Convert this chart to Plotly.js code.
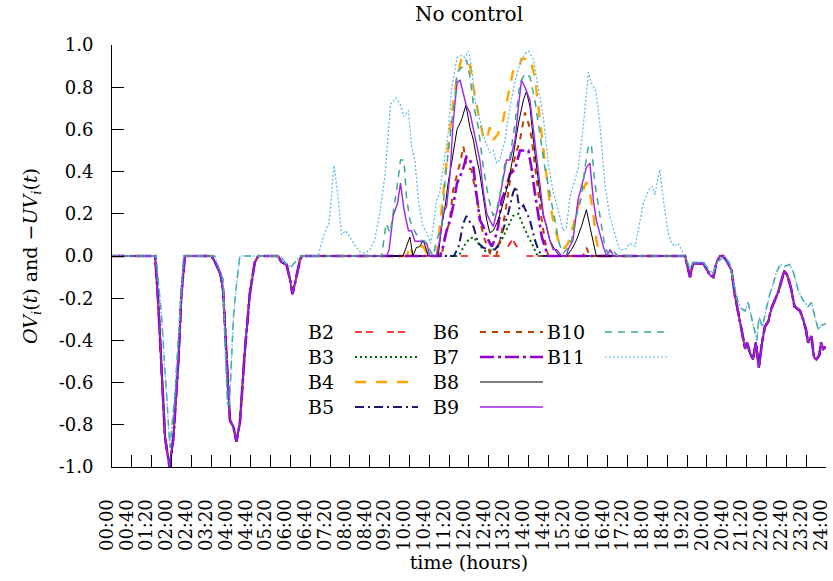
<!DOCTYPE html>
<html>
<head>
<meta charset="utf-8">
<script src="https://cdn.plot.ly/plotly-3.0.1.min.js"></script>
<style>html,body{margin:0;padding:0;background:#fff}#chart{width:833px;height:581px}</style>
</head>
<body>
<div id="chart"></div>
<script>
// ---- tick labels ----
const xTickText = ["00:00","00:40","01:20","02:00","02:40","03:20","04:00","04:40","05:20","06:00","06:40","07:20","08:00","08:40","09:20","10:00","10:40","11:20","12:00","12:40","13:20","14:00","14:40","15:20","16:00","16:40","17:20","18:00","18:40","19:20","20:00","20:40","21:20","22:00","22:40","23:20","24:00"];
const yTickVals = [-1,-0.8,-0.6,-0.4,-0.2,0,0.2,0.4,0.6,0.8,1];
const yTickText = ["-1.0","-0.8","-0.6","-0.4","-0.2","0.0","0.2","0.4","0.6","0.8","1.0"];

// ---- series names ----
const names = ["B2","B3","B4","B5","B6","B7","B8","B9","B10","B11"];

// ---- undervoltage (-UV) shared by B2..B9 (time in minutes) ----
const uvMainT = [0,87,93,100,107,116,124,134,140,147,
  201,208,218,224,231,238,245,251,258,268,278,288,295,
  335,342,352,359,364,371,379,383,
  1156,1166,1172,1193,1199,1206,1213,1219,1226,1233,1243,1250,1256,1263,1270,1277,1281,1287,1293,1299,1305,1310,1317,1324,1330,1337,1344,1349,1356,1362,1369,1377,1388,1394,1400,1404,1411,1416,1421,1427,1430,1435,1440];
const uvMainV = [0,0,-0.21,-0.52,-0.86,-1.0,-0.86,-0.49,-0.18,0,
  0,-0.03,-0.08,-0.16,-0.45,-0.78,-0.81,-0.88,-0.79,-0.45,-0.18,-0.03,0,
  0,-0.03,-0.04,-0.11,-0.18,-0.11,-0.02,0,
  0,-0.10,-0.035,-0.035,-0.06,-0.09,-0.10,-0.035,0,0,-0.035,-0.07,-0.18,-0.26,-0.35,-0.44,-0.41,-0.46,-0.49,-0.41,-0.53,-0.43,-0.335,-0.31,-0.25,-0.21,-0.17,-0.13,-0.07,-0.09,-0.145,-0.24,-0.26,-0.30,-0.35,-0.41,-0.38,-0.48,-0.49,-0.47,-0.41,-0.44,-0.43];

// ---- undervoltage shared by B10, B11 ----
const uvLowT = [0,89,100,110,117,127,137,144,
  207,224,228,233,237,242,245,250,258,
  340,352,362,372,380,
  1156,1166,1172,1193,1206,1213,1220,1236,1246,1256,1263,1270,1277,1283,1289,1297,1301,1305,1312,1320,1327,1334,1340,1348,1357,1367,1375,1384,1394,1404,1411,1419,1425,1431,1440];
const uvLowV = [0,0,-0.29,-0.68,-0.91,-0.65,-0.26,0,
  0,-0.11,-0.41,-0.71,-0.70,-0.45,-0.29,-0.16,0,
  0,-0.04,-0.05,-0.02,0,
  0,-0.06,-0.03,-0.03,-0.07,-0.08,-0.03,0,-0.035,-0.145,-0.22,-0.25,-0.26,-0.22,-0.28,-0.35,-0.40,-0.29,-0.335,-0.25,-0.18,-0.13,-0.08,-0.04,-0.05,-0.04,-0.08,-0.16,-0.21,-0.24,-0.22,-0.30,-0.35,-0.33,-0.32];

// ---- overvoltage (OV) per series ----
const ovB2T = [790,800,808,815,822,830];
const ovB2V = [0,0.05,0.08,0.05,0.03,0];

const ovB3T = [695,702,711,719,729,739,749,759,769,779,789,799,809,820,830,840,850,856,863];
const ovB3V = [0,0.01,0.05,0.076,0.09,0.06,0.03,0.015,0.03,0.045,0.09,0.14,0.19,0.20,0.14,0.09,0.045,0.01,0];

const ovB4T = [595,601,607,614,621,628,638,655,661,668,675,682,688,696,705,715,722,729,739,749,756,762,769,779,789,799,809,820,826,843,853,860,870,877,883,890,900,910,920,930,940,950,957,964,971,977,984];
const ovB4V = [0,0.05,0,0,0.045,0.045,0,0,0.14,0.28,0.44,0.60,0.72,0.85,0.935,0.905,0.905,0.80,0.675,0.565,0.55,0.61,0.55,0.58,0.645,0.755,0.875,0.88,0.935,0.935,0.85,0.71,0.50,0.36,0.25,0.17,0.076,0.03,0.06,0.14,0.235,0.31,0.35,0.30,0.20,0.076,0];

const ovB5T = [690,700,708,715,722,729,739,749,759,769,779,786,799,809,815,822,830,843,853,860,867];
const ovB5V = [0,0.05,0.15,0.19,0.16,0.14,0.06,0.04,0.03,0.02,0.05,0.10,0.20,0.30,0.33,0.22,0.24,0.17,0.076,0.03,0];

const ovB6T = [665,672,681,688,697,703,709,715,725,732,739,745,752,759,765,775,783,793,803,813,823,833,840,846,853,860,867,873,880,950,957,964];
const ovB6V = [0,0.10,0.16,0.31,0.39,0.45,0.52,0.42,0.41,0.33,0.235,0.14,0.076,0.04,0,0,0.076,0.20,0.36,0.47,0.55,0.68,0.63,0.565,0.42,0.30,0.17,0.076,0,0,0.04,0];

const ovB7T = [662,668,675,682,688,696,702,709,715,722,729,735,742,749,759,766,772,779,786,796,803,813,823,840,846,853,860,867,873,880];
const ovB7V = [0,0.045,0.12,0.17,0.235,0.345,0.375,0.42,0.47,0.455,0.42,0.30,0.17,0.14,0.076,0.045,0.076,0.14,0.265,0.33,0.39,0.41,0.50,0.50,0.42,0.30,0.20,0.09,0.045,0];

const ovB8T = [587,601,607,614,621,628,638,658,665,672,678,685,692,696,705,714,722,729,735,742,749,756,762,769,779,789,799,809,820,830,836,843,850,856,863,870,877,883,893,903,917,927,937,947,957,964,971,977];
const ovB8V = [0,0.09,0,0.04,0.045,0.076,0,0,0.14,0.235,0.345,0.44,0.53,0.60,0.645,0.715,0.61,0.55,0.47,0.39,0.28,0.17,0.11,0.12,0.17,0.25,0.345,0.47,0.63,0.74,0.78,0.71,0.55,0.42,0.30,0.19,0.14,0.076,0.03,0,0,0.03,0.076,0.14,0.22,0.14,0.06,0];

const ovB9T = [554,559,567,576,582,589,598,604,611,621,635,641,655,661,668,675,682,688,696,702,708,715,722,732,742,749,756,762,769,779,789,796,803,813,820,826,833,843,850,856,863,870,877,883,890,897,907,917,920,930,940,947,957,964,971,977,984,991,998,1005,1012];
const ovB9V = [0,0.03,0.19,0.25,0.345,0.22,0.12,0.12,0.07,0.07,0.06,0,0,0.076,0.20,0.235,0.39,0.63,0.82,0.834,0.77,0.71,0.68,0.565,0.455,0.31,0.20,0.17,0.14,0.235,0.36,0.455,0.455,0.55,0.71,0.834,0.80,0.74,0.60,0.49,0.345,0.20,0.14,0.076,0.03,0.03,0,0,0.03,0.076,0.265,0.33,0.42,0.44,0.265,0.17,0.11,0.045,0,0.03,0];

const ovB10T = [544,553,561,567,574,582,589,594,601,611,621,631,641,648,655,665,672,678,685,692,696,708,715,722,729,739,749,759,769,776,782,793,803,813,823,833,843,853,863,873,883,893,902,910,917,927,937,947,954,961,967,974,984,994,1001,1010,1020];
const ovB10V = [0,0.155,0.11,0.20,0.31,0.455,0.455,0.28,0.17,0.115,0.076,0.07,0.03,0,0.076,0.14,0.36,0.50,0.63,0.755,0.87,0.90,0.93,0.85,0.72,0.61,0.42,0.28,0.19,0.22,0.28,0.44,0.47,0.63,0.82,0.865,0.85,0.74,0.58,0.42,0.30,0.17,0.06,0.013,0.03,0.076,0.19,0.28,0.42,0.52,0.53,0.345,0.19,0.045,0.013,0.03,0];

const ovB11T = [416,426,438,448,456,463,471,480,490,500,510,520,530,540,551,562,573,581,589,598,604,611,618,627,635,643,648,655,661,672,678,685,692,696,705,712,719,725,732,742,752,762,769,776,782,793,803,813,823,833,841,850,860,870,880,890,900,910,917,924,930,940,950,961,967,976,984,994,1004,1014,1024,1035,1045,1055,1061,1072,1082,1090,1095,1105,1113,1122,1129,1135,1142,1149,1155];
const ovB11V = [0,0.09,0.16,0.43,0.28,0.10,0.12,0.09,0.05,0.02,0.013,0.03,0.076,0.20,0.39,0.72,0.75,0.72,0.66,0.69,0.52,0.455,0.265,0.14,0.11,0.06,0.14,0.265,0.30,0.47,0.58,0.79,0.88,0.94,0.95,0.94,0.97,0.90,0.74,0.645,0.55,0.49,0.50,0.44,0.455,0.55,0.71,0.83,0.91,0.96,0.97,0.93,0.80,0.66,0.44,0.30,0.22,0.12,0.14,0.28,0.33,0.41,0.60,0.87,0.82,0.78,0.63,0.345,0.19,0.115,0.03,0.03,0.06,0.045,0.12,0.25,0.31,0.33,0.29,0.41,0.25,0.11,0.06,0.045,0.06,0.03,0];

// ---- styles ----
const colors = ["#ff0000","#006400","#ffa500","#191970","#c04000","#9400d3","#000000","#a020f0","#3aa98a","#56b4e9"];
const dashes = ["7px,4px,7px,14px","2px,3px","11px,10px","9px,4px,2px,4px","6px,6px","14px,4px,3px,4px","solid","solid","7px,6px","2px,2px"];
const widths = [1.6,2.0,2.4,2.0,2.0,2.6,1.0,1.4,1.5,1.2];

const ovT = [ovB2T,ovB3T,ovB4T,ovB5T,ovB6T,ovB7T,ovB8T,ovB9T,ovB10T,ovB11T];
const ovV = [ovB2V,ovB3V,ovB4V,ovB5V,ovB6V,ovB7V,ovB8V,ovB9V,ovB10V,ovB11V];

function merge(t1,v1,t2,v2){
  const p=[];
  for(let i=0;i<t1.length;i++)p.push([t1[i],v1[i]]);
  for(let i=0;i<t2.length;i++)p.push([t2[i],v2[i]]);
  p.sort((a,b)=>a[0]-b[0]);
  return {x:p.map(q=>q[0]),y:p.map(q=>q[1])};
}

const traces = names.map((n,i)=>{
  const uT = i<8 ? uvMainT : uvLowT;
  const uV = i<8 ? uvMainV : uvLowV;
  const m = merge(uT,uV,ovT[i],ovV[i]);
  return {x:m.x,y:m.y,type:'scatter',mode:'lines',name:n,showlegend:false,
    line:{color:colors[i],width:widths[i],dash:dashes[i]}};
});

// ---- manual key (gnuplot style: label left, sample right, column-major) ----
const L=112,R=826,T=45,B=467;
const px=x=>(x-L)/(R-L), py=y=>(B-y)/(B-T);
const rowsY=[332,357,382,407];
const colTextX=[306,431,545];
const colLine=[[355,418],[480,543],[605,668]];
const annotations=[], shapes=[];
names.forEach((n,i)=>{
  const c=Math.floor(i/4), r=i%4;
  annotations.push({xref:'paper',yref:'paper',x:px(colTextX[c]),y:py(rowsY[r]),text:n,showarrow:false,
    xanchor:'left',yanchor:'middle',font:{size:19,color:'#000'}});
  shapes.push({type:'line',xref:'paper',yref:'paper',x0:px(colLine[c][0]),x1:px(colLine[c][1]),
    y0:py(rowsY[r]),y1:py(rowsY[r]),line:{color:colors[i],width:widths[i],dash:dashes[i]}});
});

const layout = {
  width:833,height:581,
  margin:{l:112,r:7,t:45,b:114,pad:0},
  paper_bgcolor:'#fff',plot_bgcolor:'#fff',
  font:{family:'"DejaVu Serif", "Liberation Serif", serif',size:19,color:'#000'},
  title:{text:'No control',x:0.5,xref:'paper',y:1-14/581,yref:'container',yanchor:'middle',font:{size:20}},
  showlegend:false,
  xaxis:{range:[0,1440.3],tickmode:'array',tickvals:xTickText.map((s,i)=>i*40),ticktext:xTickText,
    tickangle:-90,ticks:'inside',ticklen:12,tickcolor:'#000',tickwidth:1,
    showline:true,linecolor:'#000',linewidth:1,showgrid:false,zeroline:false,
    ticklabelstandoff:24,ticklabelshift:-5,ticklabeloverflow:'allow',tickfont:{size:18},automargin:false,
    title:{text:'time (hours)',font:{size:19},standoff:5}},
  yaxis:{range:[-1,1],tickmode:'array',tickvals:yTickVals,ticktext:yTickText,
    ticks:'inside',ticklen:12,tickcolor:'#000',tickwidth:1,
    showline:true,linecolor:'#000',linewidth:1,showgrid:false,zeroline:false,
    ticklabelstandoff:14,tickfont:{size:18},automargin:false,
    title:{text:'<i>OV<sub>i</sub></i>(<i>t</i>) and −<i>UV<sub>i</sub></i>(<i>t</i>)',font:{size:19},standoff:16}},
  annotations:annotations,
  shapes:shapes
};

Plotly.newPlot('chart',traces,layout,{displayModeBar:false,staticPlot:true});
</script>
</body>
</html>
